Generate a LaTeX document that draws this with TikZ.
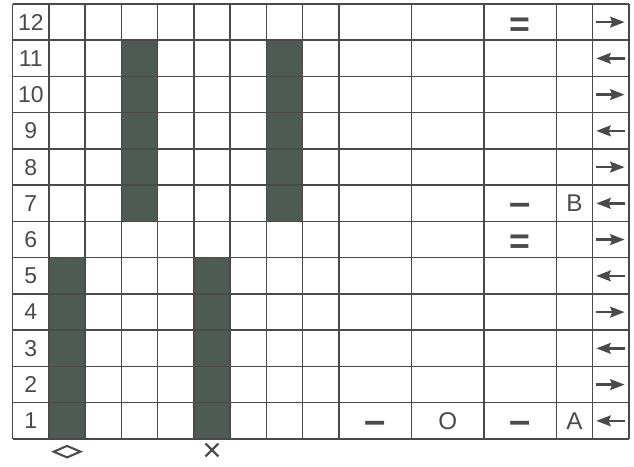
\documentclass[tikz,border=0pt]{standalone}
\usepackage{fontspec}
\setmainfont{Liberation Sans}
\usetikzlibrary{shapes.geometric,arrows.meta}
\definecolor{barcol}{HTML}{4E5B54}
\definecolor{inkcol}{HTML}{4A4A4A}

\begin{document}
\begin{tikzpicture}[
  x=0.5cm, y=0.5cm,
  gridline/.style={draw=inkcol, line width=0.6pt},
  rowno/.style={text=inkcol, font=\fontsize{9}{10}\selectfont},
  sym/.style={text=inkcol, font=\fontsize{9.5}{10}\selectfont},
  dashsym/.style={text=inkcol, font=\bfseries\fontsize{15}{16}\selectfont, yshift=-2.5pt},
  eqsym/.style={text=inkcol, font=\bfseries\fontsize{14}{15}\selectfont, yshift=-2pt},
  dir/.style={draw=inkcol, line width=0.9pt, -{Stealth[length=2mm,width=1.5mm,inset=0.3mm]}},
  keysym/.style={text=inkcol, font=\fontsize{13}{14}\selectfont}
]
\useasboundingbox (-0.35,-0.76) rectangle (17.14,12.11);
\fill[barcol] (3,6) rectangle (4,11);
\fill[barcol] (7,6) rectangle (8,11);
\fill[barcol] (1,0) rectangle (2,5);
\fill[barcol] (5,0) rectangle (6,5);
\foreach \y in {0,...,12} \draw[gridline] (0,\y) -- (17,\y);
\foreach \x in {0,...,9,11,13,15,16,17} \draw[gridline] (\x,0) -- (\x,12);
\foreach \r in {1,...,12} \node[rowno] (n\r) at (0.5,\r-0.5) {\r};
\node[eqsym] (eqa) at (14,11.5) {=};
\node[dashsym] (dsb) at (14,6.5) {–};
\node[sym] (lb) at (15.5,6.5) {B};
\node[eqsym] (eqb) at (14,5.5) {=};
\node[dashsym] (dsa) at (10,0.5) {–};
\node[sym] (oo) at (12,0.5) {O};
\node[dashsym] (dsc) at (14,0.5) {–};
\node[sym] (la) at (15.5,0.5) {A};
\foreach \r in {1,...,12} {
  \coordinate (al\r) at (16.1,\r-0.5);
  \coordinate (ar\r) at (16.88,\r-0.5);
}
\foreach \r in {2,4,...,12} \draw[dir] (al\r) -- (ar\r);
\foreach \r in {1,3,...,11} \draw[dir] (ar\r) -- (al\r);
\node[diamond, draw=inkcol, line width=0.8pt, inner sep=0pt, minimum width=0.38cm, minimum height=0.17cm] (dm) at (1.5,-0.35) {};
\node[keysym] (cr) at (5.5,-0.37) {×};
\end{tikzpicture}
\end{document}
